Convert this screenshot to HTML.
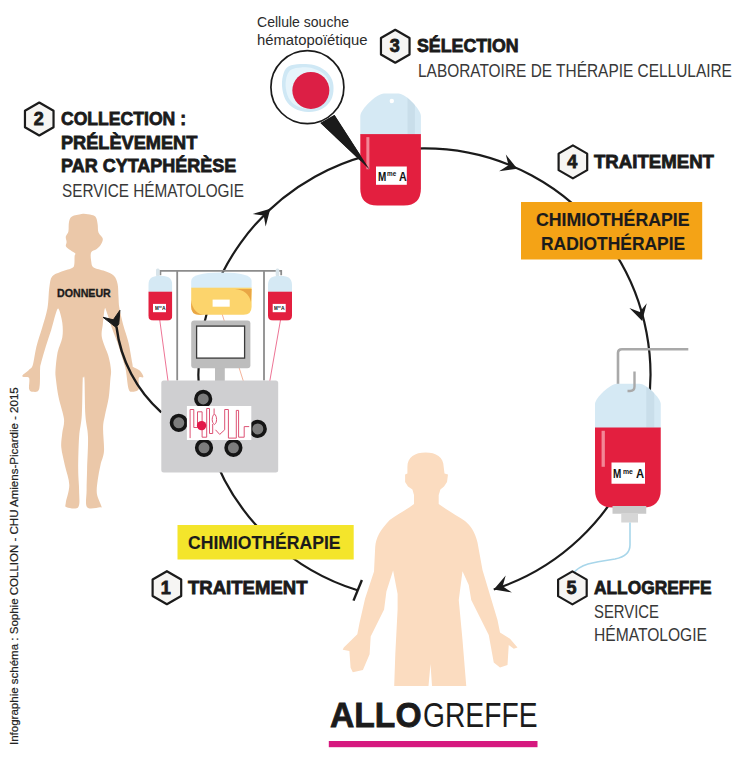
<!DOCTYPE html><html><head><meta charset="utf-8"><style>
html,body{margin:0;padding:0;background:#fff;}
body{width:736px;height:759px;position:relative;overflow:hidden;font-family:"Liberation Sans",sans-serif;}
.t{position:absolute;white-space:nowrap;line-height:1;transform-origin:0 0;}
.h{-webkit-text-stroke:0.8px #1b1b1b;}
svg{position:absolute;left:0;top:0;}
</style></head><body>
<svg width="736" height="759" viewBox="0 0 736 759">
<path fill="#ebc8a9" d="M81.6,214.0 C84.3,213.6 85.7,213.9 88.0,214.3 C90.3,214.7 93.7,215.0 95.3,216.6 C96.9,218.2 97.1,221.4 97.6,224.0 C98.1,226.6 97.6,230.0 98.5,232.4 C99.4,234.8 102.5,236.6 102.8,238.7 C103.1,240.8 101.7,243.2 100.6,245.0 C99.5,246.8 98.0,248.1 96.4,249.3 C94.8,250.5 91.9,250.3 91.1,252.4 C90.2,254.5 90.9,259.5 91.3,262.0 C91.7,264.5 91.4,265.9 93.6,267.4 C95.8,268.9 101.3,269.6 104.7,271.0 C108.1,272.4 111.8,273.5 113.9,275.7 C116.1,277.9 116.8,280.5 117.6,284.0 C118.4,287.5 118.2,292.9 118.5,296.9 C118.8,300.9 118.6,303.4 119.4,308.0 C120.2,312.6 121.6,318.7 123.1,324.5 C124.6,330.3 127.1,336.5 128.6,343.0 C130.1,349.5 131.5,359.3 132.3,363.3 C133.1,367.3 132.0,365.8 133.2,367.0 C134.4,368.2 138.0,368.9 139.7,370.6 C141.4,372.3 143.6,375.8 143.4,377.0 C143.2,378.2 139.6,376.0 138.8,378.0 C138.0,380.0 139.9,386.7 138.8,389.0 C137.7,391.3 134.0,391.8 132.3,391.8 C130.6,391.8 129.7,392.5 128.6,389.0 C127.5,385.5 126.7,374.9 125.9,370.6 C125.1,366.3 125.4,367.9 124.0,363.3 C122.6,358.7 119.6,348.9 117.6,343.0 C115.6,337.1 113.8,333.4 112.0,328.2 C110.2,323.0 107.7,314.8 106.5,311.6 C105.3,308.4 105.3,306.9 104.7,309.0 C104.1,311.1 103.3,319.8 102.8,324.5 C102.3,329.2 101.0,332.2 101.9,337.4 C102.8,342.6 106.9,350.5 108.4,355.9 C109.9,361.3 110.7,366.0 111.0,370.0 C111.3,374.0 110.7,375.4 110.3,380.0 C109.9,384.6 109.6,391.9 108.7,397.8 C107.8,403.7 105.8,410.6 104.9,415.6 C104.0,420.6 103.2,422.1 103.1,428.0 C102.9,433.9 104.4,444.9 104.0,451.1 C103.6,457.3 101.5,460.2 100.5,465.0 C99.5,469.8 98.4,474.8 97.8,479.6 C97.2,484.4 96.3,489.4 96.9,493.8 C97.5,498.2 100.9,504.1 101.4,506.3 C101.9,508.5 102.4,507.1 100.0,507.2 C97.6,507.3 89.3,510.0 87.1,507.2 C84.9,504.4 86.6,496.7 86.6,490.3 C86.6,483.9 86.9,477.8 87.1,468.9 C87.3,460.0 88.3,445.8 88.0,436.9 C87.7,428.0 86.0,425.1 85.4,415.6 C84.8,406.1 84.8,386.3 84.5,380.0 C84.2,373.7 83.9,378.0 83.6,378.0 C83.3,378.0 83.0,373.7 82.7,380.0 C82.4,386.3 82.4,406.1 81.8,415.6 C81.2,425.1 79.7,428.0 79.1,436.9 C78.5,445.8 78.2,460.0 78.2,468.9 C78.2,477.8 79.1,483.9 79.1,490.3 C79.1,496.7 80.3,504.4 78.2,507.2 C76.1,510.0 68.8,507.9 66.7,507.2 C64.6,506.4 65.4,506.4 65.8,502.7 C66.2,499.0 69.4,491.2 69.3,485.0 C69.2,478.8 66.2,471.6 64.9,465.4 C63.6,459.2 61.8,452.9 61.3,447.6 C60.8,442.3 61.8,438.1 62.2,433.4 C62.7,428.6 64.6,425.0 64.0,419.1 C63.4,413.2 60.0,404.3 58.7,397.8 C57.4,391.3 56.5,384.6 56.0,380.0 C55.5,375.4 55.2,374.6 55.5,370.0 C55.8,365.4 56.5,357.6 57.6,352.2 C58.7,346.8 61.5,342.3 62.3,337.4 C63.1,332.5 62.9,327.4 62.3,322.7 C61.7,318.0 59.7,310.5 58.6,309.0 C57.5,307.5 57.0,310.0 55.8,313.5 C54.6,317.0 52.9,324.5 51.2,330.0 C49.5,335.5 47.4,341.1 45.7,346.7 C44.0,352.2 41.9,359.6 41.0,363.3 C40.1,367.0 40.4,364.5 40.1,368.8 C39.8,373.1 40.4,385.2 39.2,389.0 C38.0,392.8 34.5,391.8 32.8,391.8 C31.1,391.8 29.7,391.3 29.1,389.0 C28.5,386.7 30.0,380.0 29.1,378.0 C28.2,376.0 24.6,377.5 23.5,377.0 C22.4,376.5 21.7,376.4 22.6,375.2 C23.5,374.0 27.4,371.4 29.1,369.7 C30.8,368.0 31.6,368.9 32.8,365.1 C34.0,361.3 34.9,352.9 36.4,346.7 C37.9,340.5 40.1,334.6 42.0,328.2 C43.9,321.8 46.3,314.8 47.5,308.0 C48.7,301.2 48.5,292.9 49.3,287.7 C50.1,282.5 50.2,279.2 52.1,276.6 C54.0,274.0 57.2,273.4 60.4,272.0 C63.6,270.6 69.2,269.5 71.5,268.3 C73.8,267.1 73.7,267.1 74.2,265.0 C74.7,262.9 74.4,257.9 74.6,256.0 C74.8,254.1 76.0,254.4 75.3,253.5 C74.6,252.6 72.1,251.5 70.6,250.3 C69.0,249.1 66.7,247.9 66.0,246.5 C65.3,245.1 66.6,243.7 66.6,242.0 C66.6,240.3 65.5,238.4 65.8,236.6 C66.1,234.8 67.9,233.8 68.4,231.4 C68.9,229.0 68.4,224.5 69.0,222.0 C69.6,219.5 69.9,217.8 72.0,216.5 C74.1,215.2 78.9,214.4 81.6,214.0 Z"/>
<path fill="#fbdcc0" d="M425.6,452.5 C436,452.5 443.7,457 443.7,467 L444.5,473.5 L448,474.6 L447,482 L444,486.5 L440.4,489.4 L438.7,495 L438.7,504 C448,511 458,516 465,521 C471,526 475,532 477.5,542.5 L482.5,570 L490,595 L497.5,620 L500,632.5 L510,638.75 L517.5,647.5 L513.75,648.75 L508.75,645 L507.5,665 L500,667.5 L493.75,662.5 L488.75,635 L471.25,600 L468.75,585 L462.5,571.25 L458.75,600 L462.5,640 L466.25,686 L432,686 L430.5,664 L428.5,686 L394.2,686 L395.3,654.3 L397.6,609.5 L397.6,593.9 L393.1,570.4 L386.4,591.6 L384.1,609.5 L370.7,636.4 L369.6,654.3 L362.9,670 L352.8,672.2 L350.6,667.7 L349.4,651 L342.7,649.8 L343.8,647.6 L357.3,634.2 L359.5,623 L365.1,598.4 L374,571.5 L375.2,546.9 C376,538 380,530 389.7,520 C398,514 406,510 414,504 L414,495 L412.4,489.4 L408,486.5 L405.1,482 L405.1,474.6 L407.4,473.5 L407.4,467 C407.4,457 415,452.5 425.6,452.5 Z"/>
<path d="M357.5,590.25 A226.0,226.0 0 1 1 493.75,589.5" fill="none" stroke="#1b1b1b" stroke-width="2.2"/>
<line x1="361.9" y1="580" x2="353.5" y2="600.6" stroke="#1b1b1b" stroke-width="2.4"/>
<path d="M161.3,412.3 A137,137 0 0 1 116.5,327" fill="none" stroke="#1b1b1b" stroke-width="2.4"/>
<path d="M103,317.3 L113.3,319.8 L119.9,310.3 L118.8,323.9 L116.2,327.5 Z" fill="#1b1b1b" stroke="#1b1b1b" stroke-width="1" stroke-linejoin="round"/>
<path d="M0,0 L-16,-9 L-9.5,0 L-16,9 Z" fill="#1b1b1b" transform="translate(270.3,208.7) rotate(-46)"/>
<path d="M0,0 L-16,-9 L-9.5,0 L-16,9 Z" fill="#1b1b1b" transform="translate(517.3,168.8) rotate(22)"/>
<path d="M0,0 L-16,-9 L-9.5,0 L-16,9 Z" fill="#1b1b1b" transform="translate(642.2,321.1) rotate(75)"/>
<path d="M0,0 L-16,-9 L-9.5,0 L-16,9 Z" fill="#1b1b1b" transform="translate(493.75,589.5) rotate(160)"/>
<rect x="521" y="202" width="181.2" height="57.5" fill="#f4a316"/>
<rect x="177.5" y="525" width="176.2" height="34.5" fill="#f4e52b"/>
<circle cx="307.4" cy="87.2" r="36.5" fill="#fff" stroke="#1b1b1b" stroke-width="1.7"/>
<path d="M288.8,66.3 C291.6,64.8 296.0,64.2 300.2,64.0 C304.4,63.8 309.7,64.0 313.9,65.1 C318.1,66.2 322.3,68.3 325.4,70.8 C328.4,73.3 330.9,76.6 332.2,80.0 C333.5,83.4 333.8,87.8 333.4,91.4 C333.0,95.0 332.0,98.7 329.9,101.7 C327.8,104.7 324.4,107.9 320.8,109.6 C317.2,111.3 312.6,112.2 308.2,112.0 C303.8,111.8 298.3,110.6 294.5,108.5 C290.7,106.4 287.5,103.2 285.4,99.4 C283.3,95.6 282.3,90.1 282.0,85.7 C281.7,81.3 282.6,76.3 283.7,73.1 C284.8,69.9 286.1,67.8 288.8,66.3 Z" fill="#cfe8f5"/>
<path d="M291.5,69.4 C293.9,68.1 297.7,67.6 301.3,67.4 C304.9,67.3 309.5,67.4 313.1,68.4 C316.7,69.4 320.3,71.1 323.0,73.3 C325.6,75.4 327.7,78.2 328.8,81.2 C330.0,84.1 330.2,87.9 329.8,91.0 C329.5,94.1 328.6,97.2 326.8,99.9 C325.0,102.5 322.1,105.2 319.0,106.6 C315.9,108.1 311.9,108.9 308.2,108.7 C304.4,108.6 299.7,107.5 296.4,105.7 C293.1,103.9 290.4,101.1 288.6,97.9 C286.8,94.6 285.9,89.9 285.6,86.1 C285.4,82.3 286.1,78.0 287.1,75.3 C288.1,72.5 289.1,70.7 291.5,69.4 Z" fill="#e6f4fb"/>
<circle cx="310.85" cy="90.4" r="18.5" fill="#dc1f45"/>
<polygon points="320.5,123 334.5,115 369.6,169.6" fill="#1b1b1b"/>
<clipPath id="bag36093"><path d="M384,93.5 L398.5,93.5 C405.21999999999997,93.5 420.9,109.25 420.9,116 L420.9,188.5 Q420.9,205.5 403.9,205.5 L377.3,205.5 Q360.3,205.5 360.3,188.5 L360.3,116 C360.3,109.25 376.89,93.5 384,93.5 Z"/></clipPath>
<g clip-path="url(#bag36093)"><rect x="358.3" y="91.5" width="64.59999999999997" height="43.599999999999994" fill="#d5e9f4"/><rect x="407.568" y="93.5" width="7.271999999999996" height="40.599999999999994" fill="#c3d9e6" opacity="0.7"/><rect x="358.3" y="134.1" width="64.59999999999997" height="73.4" fill="#e31f3f"/><rect x="366.36" y="137.13" width="3.0299999999999985" height="32.13" fill="#f6a0ad" opacity="0.8"/></g>
<circle cx="391.8" cy="101" r="2.2" fill="#fff"/>
<polygon points="320.5,123 334.5,115 369.6,169.6" fill="#1b1b1b"/>
<rect x="376" y="166.5" width="30.8" height="18.3" fill="#fff"/>
<path d="M160.4,275.2 L160.4,270.8 L281.2,270.8 L281.2,275.2" fill="none" stroke="#8c8c8c" stroke-width="1.8"/>
<rect x="176.3" y="270.5" width="1.8" height="110" fill="#8c8c8c"/>
<rect x="263.1" y="270.5" width="1.8" height="110" fill="#8c8c8c"/>
<line x1="159.75" y1="320" x2="168" y2="381" stroke="#e8507a" stroke-width="0.8"/>
<line x1="280.5" y1="320" x2="269.8" y2="381" stroke="#e8507a" stroke-width="0.8"/>
<line x1="222.1" y1="314" x2="243.3" y2="381" stroke="#f0a080" stroke-width="0.8"/>
<rect x="156.0" y="268.5" width="3.6" height="8" rx="1.5" fill="#d8e4ea"/>
<clipPath id="sb148"><path d="M148.3,285 C148.3,277.5 153.3,275.7 160.3,275.7 C167.3,275.7 172.3,277.5 172.3,285 L172.3,315.4 Q172.3,320.4 167.3,320.4 L153.3,320.4 Q148.3,320.4 148.3,315.4 Z"/></clipPath>
<g clip-path="url(#sb148)"><rect x="148.3" y="275.7" width="24" height="16.2" fill="#d5e9f4"/><rect x="148.3" y="291.7" width="24" height="29" fill="#e31f3f"/></g>
<rect x="153.0" y="303.9" width="13" height="8.3" fill="#fff"/>
<rect x="275.7" y="268.5" width="3.6" height="8" rx="1.5" fill="#d8e4ea"/>
<clipPath id="sb268"><path d="M268.0,285 C268.0,277.5 273.0,275.7 280.0,275.7 C287.0,275.7 292.0,277.5 292.0,285 L292.0,315.4 Q292.0,320.4 287.0,320.4 L273.0,320.4 Q268.0,320.4 268.0,315.4 Z"/></clipPath>
<g clip-path="url(#sb268)"><rect x="268.0" y="275.7" width="24" height="16.2" fill="#d5e9f4"/><rect x="268.0" y="291.7" width="24" height="29" fill="#e31f3f"/></g>
<rect x="272.7" y="303.9" width="13" height="8.3" fill="#fff"/>
<clipPath id="yb"><path d="M191.2,281 Q191.2,272.5 221.4,272.5 Q251.6,272.5 251.6,281 L251.6,306.8 Q251.6,314.8 243.6,314.8 L199.2,314.8 Q191.2,314.8 191.2,306.8 Z"/></clipPath>
<g clip-path="url(#yb)"><rect x="190" y="272" width="63" height="16" fill="#d8ecf8"/><rect x="190" y="287.7" width="63" height="28" fill="#fcd46c"/><path d="M191,300 Q193,314 205,315 L191,315 Z" fill="#e9a645"/><path d="M235,289 Q248,290 251,302 L252,289 Z" fill="#e9a645"/></g>
<rect x="212.6" y="299.6" width="17.1" height="7.1" fill="#fff"/>
<rect x="215" y="367" width="9.8" height="14" fill="#bdbdbd"/>
<rect x="191.2" y="320.6" width="59.2" height="47.7" rx="3" fill="#bdbdbd"/>
<rect x="196.6" y="326.1" width="48" height="32" fill="#fff" stroke="#3a3a3a" stroke-width="1.3"/>
<rect x="161.3" y="380.4" width="116.9" height="92.2" rx="2.5" fill="#cfcfd1"/>
<circle cx="203.2" cy="398.9" r="7.3" fill="#7d7d7d" stroke="#151515" stroke-width="3.6"/>
<circle cx="178.8" cy="422.8" r="7.3" fill="#7d7d7d" stroke="#151515" stroke-width="3.6"/>
<circle cx="257.8" cy="428.9" r="7.3" fill="#7d7d7d" stroke="#151515" stroke-width="3.6"/>
<circle cx="204" cy="447.8" r="7.3" fill="#7d7d7d" stroke="#151515" stroke-width="3.6"/>
<circle cx="233.4" cy="447.8" r="7.3" fill="#7d7d7d" stroke="#151515" stroke-width="3.6"/>
<rect x="186.9" y="406" width="64.4" height="34" fill="#fff"/>
<path d="M190.1,438.1 V409.5 H193.8 V427.5 H197.5 V411.8 H202.1 V437.2 H206.7 V408.5 H209.5 V433.5 H212.7 V424 M214.1,408.5 V414 M214.4,414 C211.5,416 211.5,423 214.4,424.5 C217.3,423 217.3,416 214.4,414 M215.5,429.8 L219.7,434.4 L224.7,429.8 V409.5 H228.4 V438.1 H236.3 V410.4 H238.6 V437.2 H244.2 V426.6 H249.2" fill="none" stroke="#dd5274" stroke-width="1"/>
<circle cx="201.6" cy="425.6" r="4.7" fill="#e2194a"/>
<path d="M688.3,349.2 L622,349.2 Q618,349.2 618,353 L618,387.5" fill="none" stroke="#a9a9a9" stroke-width="2.6"/>
<clipPath id="bag595383"><path d="M617,383.75 L639.5,383.75 C645.875,383.75 660.75,397.925 660.75,404 L660.75,489.5 Q660.75,507.5 642.75,507.5 L613,507.5 Q595,507.5 595,489.5 L595,404 C595,397.925 610.4,383.75 617,383.75 Z"/></clipPath>
<g clip-path="url(#bag595383)"><rect x="593" y="381.75" width="69.75" height="46.75" fill="#d5e9f4"/><rect x="646.285" y="383.75" width="7.89" height="43.75" fill="#c3d9e6" opacity="0.7"/><rect x="593" y="427.5" width="69.75" height="82.0" fill="#e31f3f"/><rect x="601.575" y="430.7875" width="3.2875" height="36.0" fill="#f6a0ad" opacity="0.8"/></g>
<path d="M634.5,371.5 L634.5,386.5 Q634.5,391 630,391 L627.5,391" fill="none" stroke="#a9a9a9" stroke-width="2.4"/>
<rect x="611.5" y="462.5" width="33.5" height="21.25" fill="#fff"/>
<rect x="612.5" y="506" width="33.75" height="7.75" fill="#c9c9c9"/>
<rect x="621.25" y="513.5" width="16.75" height="9" fill="#d6d6d6"/>
<path d="M630,522.5 L630,545 Q630,556 615,559 Q595,562 588,564 Q578,567 572.5,574" fill="none" stroke="#a8d6ea" stroke-width="1.6"/>
<rect x="328.8" y="741" width="208.7" height="6.2" fill="#d6197f"/>
<polygon points="39.25,102.50 53.54,110.75 53.54,127.25 39.25,135.50 24.96,127.25 24.96,110.75" fill="#f6f5f3" stroke="#1b1b1b" stroke-width="2.2" stroke-linejoin="round"/>
<polygon points="395.25,29.75 409.54,38.00 409.54,54.50 395.25,62.75 380.96,54.50 380.96,38.00" fill="#f6f5f3" stroke="#1b1b1b" stroke-width="2.2" stroke-linejoin="round"/>
<polygon points="572.90,145.40 587.19,153.65 587.19,170.15 572.90,178.40 558.61,170.15 558.61,153.65" fill="#f6f5f3" stroke="#1b1b1b" stroke-width="2.2" stroke-linejoin="round"/>
<polygon points="166.90,571.20 181.19,579.45 181.19,595.95 166.90,604.20 152.61,595.95 152.61,579.45" fill="#f6f5f3" stroke="#1b1b1b" stroke-width="2.2" stroke-linejoin="round"/>
<polygon points="572.40,571.40 586.69,579.65 586.69,596.15 572.40,604.40 558.11,596.15 558.11,579.65" fill="#f6f5f3" stroke="#1b1b1b" stroke-width="2.2" stroke-linejoin="round"/>
</svg>
<div class="t" style="left:257.00px;top:14.88px;font-size:14px;font-weight:normal;color:#2b2b2b;transform:scaleX(1.0017);">Cellule souche</div>
<div class="t" style="left:257.00px;top:32.58px;font-size:14px;font-weight:normal;color:#2b2b2b;transform:scaleX(1.0594);">hématopoïétique</div>
<div class="t h" style="left:417.25px;top:37.47px;font-size:18.5px;font-weight:bold;color:#1b1b1b;transform:scaleX(0.9607);">SÉLECTION</div>
<div class="t" style="left:417.50px;top:61.80px;font-size:18.6px;font-weight:normal;color:#383838;transform:scaleX(0.8300);">LABORATOIRE DE THÉRAPIE CELLULAIRE</div>
<div class="t h" style="left:61.25px;top:109.57px;font-size:18.5px;font-weight:bold;color:#1b1b1b;transform:scaleX(0.9503);">COLLECTION :</div>
<div class="t h" style="left:61.25px;top:133.97px;font-size:18.5px;font-weight:bold;color:#1b1b1b;transform:scaleX(0.9823);">PRÉLÈVEMENT</div>
<div class="t h" style="left:61.25px;top:157.07px;font-size:18.5px;font-weight:bold;color:#1b1b1b;transform:scaleX(0.9724);">PAR CYTAPHÉRÈSE</div>
<div class="t" style="left:61.60px;top:181.80px;font-size:18.6px;font-weight:normal;color:#383838;transform:scaleX(0.8230);">SERVICE HÉMATOLOGIE</div>
<div class="t h" style="left:593.50px;top:153.47px;font-size:18.5px;font-weight:bold;color:#1b1b1b;transform:scaleX(1.0064);">TRAITEMENT</div>
<div class="t" style="left:535.80px;top:211.17px;font-size:18.5px;font-weight:bold;color:#1b1b1b;transform:scaleX(0.9576);-webkit-text-stroke:0.15px #1b1b1b;">CHIMIOTHÉRAPIE</div>
<div class="t" style="left:540.60px;top:234.57px;font-size:18.5px;font-weight:bold;color:#1b1b1b;transform:scaleX(0.9414);-webkit-text-stroke:0.15px #1b1b1b;">RADIOTHÉRAPIE</div>
<div class="t" style="left:187.50px;top:533.97px;font-size:18.5px;font-weight:bold;color:#1b1b1b;transform:scaleX(0.9513);-webkit-text-stroke:0.15px #1b1b1b;">CHIMIOTHÉRAPIE</div>
<div class="t h" style="left:187.60px;top:579.07px;font-size:18.5px;font-weight:bold;color:#1b1b1b;transform:scaleX(1.0022);">TRAITEMENT</div>
<div class="t h" style="left:594.00px;top:579.32px;font-size:18.5px;font-weight:bold;color:#1b1b1b;transform:scaleX(0.9368);">ALLOGREFFE</div>
<div class="t" style="left:594.00px;top:603.08px;font-size:18.4px;font-weight:normal;color:#383838;transform:scaleX(0.8084);">SERVICE</div>
<div class="t" style="left:594.00px;top:625.78px;font-size:18.4px;font-weight:normal;color:#383838;transform:scaleX(0.8482);">HÉMATOLOGIE</div>
<div class="t" style="left:56.50px;top:287.88px;font-size:11.5px;font-weight:bold;color:#1b1b1b;transform:scaleX(0.9255);-webkit-text-stroke:0.35px #1b1b1b;">DONNEUR</div>
<div class="t h" style="left:329.50px;top:697.40px;font-size:35.3px;font-weight:bold;color:#1b1b1b;transform:scaleX(0.9530);">ALLO</div>
<div class="t" style="left:423.00px;top:697.40px;font-size:35.3px;font-weight:normal;color:#1b1b1b;transform:scaleX(0.7999);">GREFFE</div>
<div class="t h" style="left:33.76px;top:109.70px;font-size:18px;font-weight:bold;color:#1b1b1b;transform:scaleX(1.0000);">2</div>
<div class="t h" style="left:389.70px;top:37.15px;font-size:18px;font-weight:bold;color:#1b1b1b;transform:scaleX(1.0000);">3</div>
<div class="t h" style="left:567.30px;top:152.90px;font-size:18px;font-weight:bold;color:#1b1b1b;transform:scaleX(1.0000);">4</div>
<div class="t h" style="left:160.70px;top:579.10px;font-size:18px;font-weight:bold;color:#1b1b1b;transform:scaleX(1.0000);">1</div>
<div class="t h" style="left:566.50px;top:578.90px;font-size:18px;font-weight:bold;color:#1b1b1b;transform:scaleX(1.0000);">5</div>
<div class="t" style="left:377.80px;top:169.93px;font-size:13.08px;font-weight:bold;color:#111;transform:scaleX(0.7599);">M</div>
<div class="t" style="left:387.20px;top:171.13px;font-size:6.73px;font-weight:bold;color:#111;transform:scaleX(0.9460);">me</div>
<div class="t" style="left:399.30px;top:169.93px;font-size:13.08px;font-weight:bold;color:#111;transform:scaleX(0.8176);">A</div>
<div class="t" style="left:612.90px;top:466.86px;font-size:13.52px;font-weight:bold;color:#111;transform:scaleX(0.7352);">M</div>
<div class="t" style="left:623.00px;top:467.95px;font-size:7.88px;font-weight:bold;color:#111;transform:scaleX(0.8694);">me</div>
<div class="t" style="left:635.90px;top:466.86px;font-size:13.52px;font-weight:bold;color:#111;transform:scaleX(0.8321);">A</div>
<div class="t" style="left:154.70px;top:305.23px;font-size:6.1px;font-weight:bold;color:#111;transform:scaleX(0.7460);">M</div>
<div class="t" style="left:158.70px;top:305.85px;font-size:3.46px;font-weight:bold;color:#111;transform:scaleX(0.5600);">me</div>
<div class="t" style="left:161.70px;top:305.23px;font-size:6.1px;font-weight:bold;color:#111;transform:scaleX(0.8197);">A</div>
<div class="t" style="left:274.40px;top:305.23px;font-size:6.1px;font-weight:bold;color:#111;transform:scaleX(0.7460);">M</div>
<div class="t" style="left:278.40px;top:305.85px;font-size:3.46px;font-weight:bold;color:#111;transform:scaleX(0.5600);">me</div>
<div class="t" style="left:281.40px;top:305.23px;font-size:6.1px;font-weight:bold;color:#111;transform:scaleX(0.8197);">A</div>
<div class="t" style="left:8px;top:745px;font-size:11.7px;color:#222;-webkit-text-stroke:0.2px #222;transform-origin:0 0;transform:rotate(-90deg) scaleX(0.985);">Infographie schéma : Sophie COLLION - CHU Amiens-Picardie - 2015</div>
</body></html>
